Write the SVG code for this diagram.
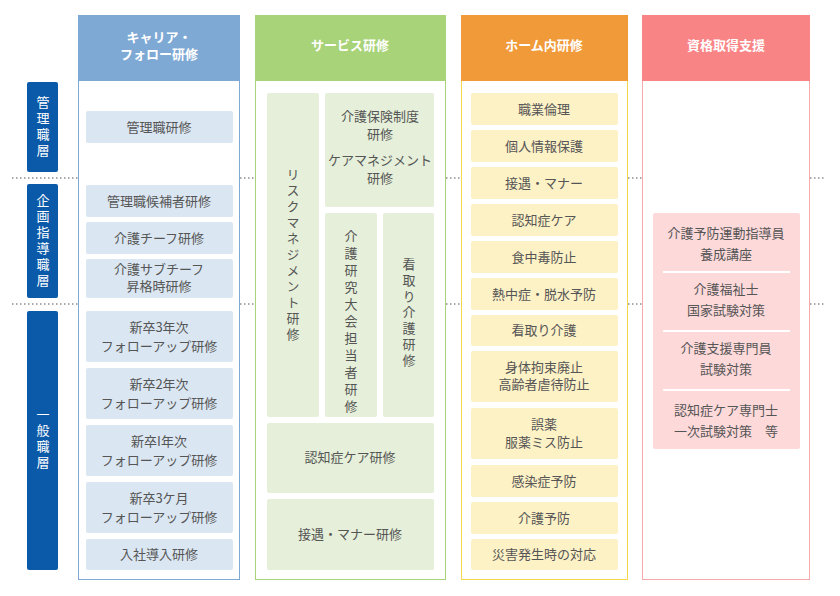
<svg xmlns="http://www.w3.org/2000/svg" width="840" height="596" viewBox="0 0 840 596">
<style>
text{font-family:"Noto Sans CJK JP","Noto Sans",sans-serif;font-size:13px;fill:#555;text-anchor:middle}
.h{fill:#fff;font-weight:bold;font-size:13px}
.lv{fill:#fff;font-size:13px;writing-mode:vertical-rl;text-anchor:start;letter-spacing:3px}
.v{writing-mode:vertical-rl;text-anchor:start}
.dot{stroke:#555;stroke-width:1;stroke-dasharray:1.5 2.5}
.b1{fill:#dae6f1}.b2{fill:#e5efd9}.b3{fill:#fdf1c6}
</style>
<rect width="840" height="596" fill="#fff"/>
<g id="connectors">
<path class="dot" d="M12 178H78M240 178H255M446 178H461M628 178H642M810 178H826M12 304H78M240 304H255M446 304H461M628 304H642M810 304H826"/>
</g>
<g id="levels">
<rect x="27" y="82" width="31" height="90" rx="2" fill="#0b5aa9"/>
<text class="lv" x="43" y="96">管理職層</text>
<rect x="27" y="184" width="31" height="114" rx="2" fill="#0b5aa9"/>
<text class="lv" x="43" y="194">企画指導職層</text>
<rect x="27" y="311" width="31" height="259" rx="2" fill="#0b5aa9"/>
<text class="lv" x="43" y="408">一般職層</text>
</g>
<g id="col1">
<rect x="78.5" y="15.5" width="161" height="564" fill="#fff" stroke="#7ea9d4"/>
<rect x="78" y="15" width="162" height="66" fill="#7ea9d4"/>
<text class="h"><tspan x="159" y="42">キャリア・</tspan><tspan x="159" y="59">フォロー研修</tspan></text>
<rect class="b1" x="86" y="111" width="147" height="32" rx="2"/><text x="159" y="132">管理職研修</text>
<rect class="b1" x="86" y="185" width="147" height="32" rx="2"/><text x="159" y="206">管理職候補者研修</text>
<rect class="b1" x="86" y="222" width="147" height="32" rx="2"/><text x="159" y="243">介護チーフ研修</text>
<rect class="b1" x="86" y="259" width="147" height="39" rx="2"/><text x="159" y="274">介護サブチーフ</text><text x="159" y="291">昇格時研修</text>
<rect class="b1" x="86" y="311" width="147" height="51" rx="2"/><text x="159" y="332">新卒3年次</text><text x="159" y="351">フォローアップ研修</text>
<rect class="b1" x="86" y="368" width="147" height="51" rx="2"/><text x="159" y="389">新卒2年次</text><text x="159" y="408">フォローアップ研修</text>
<rect class="b1" x="86" y="425" width="147" height="51" rx="2"/><text x="159" y="446">新卒I年次</text><text x="159" y="465">フォローアップ研修</text>
<rect class="b1" x="86" y="482" width="147" height="51" rx="2"/><text x="159" y="503">新卒3ケ月</text><text x="159" y="522">フォローアップ研修</text>
<rect class="b1" x="86" y="539" width="147" height="31" rx="2"/><text x="159" y="559">入社導入研修</text>
</g>
<g id="col2">
<rect x="255.5" y="15.5" width="190" height="564" fill="#fff" stroke="#a8d379"/>
<rect x="255" y="15" width="191" height="66" fill="#a8d379"/>
<text class="h" x="350" y="50">サービス研修</text>
<rect class="b2" x="267" y="93" width="52" height="324" rx="2"/>
<text class="v" x="293" y="168" style="letter-spacing:3px">リスクマネジメント研修</text>
<rect class="b2" x="325" y="93" width="109" height="114" rx="2"/>
<text x="380" y="121">介護保険制度</text><text x="380" y="139">研修</text><text x="380" y="165">ケアマネジメント</text><text x="380" y="183">研修</text>
<rect class="b2" x="325" y="213" width="52" height="204" rx="2"/>
<text class="v" x="351" y="230" style="letter-spacing:4px">介護研究大会担当者研修</text>
<rect class="b2" x="383" y="213" width="51" height="204" rx="2"/>
<text class="v" x="409" y="258" style="letter-spacing:3px">看取り介護研修</text>
<rect class="b2" x="267" y="423" width="167" height="70" rx="2"/><text x="350" y="462">認知症ケア研修</text>
<rect class="b2" x="267" y="499" width="167" height="71" rx="2"/><text x="350" y="539">接遇・マナー研修</text>
</g>
<g id="col3">
<rect x="461.5" y="15.5" width="166" height="564" fill="#fff" stroke="#f7d84a"/>
<rect x="461" y="15" width="167" height="66" fill="#f09a3a"/>
<text class="h" x="544" y="50">ホーム内研修</text>
<rect class="b3" x="471" y="93" width="147" height="32" rx="2"/><text x="544" y="114">職業倫理</text>
<rect class="b3" x="471" y="130" width="147" height="32" rx="2"/><text x="544" y="151">個人情報保護</text>
<rect class="b3" x="471" y="167" width="147" height="32" rx="2"/><text x="544" y="188">接遇・マナー</text>
<rect class="b3" x="471" y="204" width="147" height="32" rx="2"/><text x="544" y="225">認知症ケア</text>
<rect class="b3" x="471" y="241" width="147" height="32" rx="2"/><text x="544" y="262">食中毒防止</text>
<rect class="b3" x="471" y="278" width="147" height="32" rx="2"/><text x="544" y="299">熱中症・脱水予防</text>
<rect class="b3" x="471" y="315" width="147" height="31" rx="2"/><text x="544" y="335">看取り介護</text>
<rect class="b3" x="471" y="351" width="147" height="51" rx="2"/><text x="544" y="372">身体拘束廃止</text><text x="544" y="389">高齢者虐待防止</text>
<rect class="b3" x="471" y="408" width="147" height="51" rx="2"/><text x="544" y="429">誤薬</text><text x="544" y="447">服薬ミス防止</text>
<rect class="b3" x="471" y="465" width="147" height="32" rx="2"/><text x="544" y="486">感染症予防</text>
<rect class="b3" x="471" y="502" width="147" height="32" rx="2"/><text x="544" y="523">介護予防</text>
<rect class="b3" x="471" y="539" width="147" height="31" rx="2"/><text x="544" y="559">災害発生時の対応</text>
</g>
<g id="col4">
<rect x="642.5" y="15.5" width="167" height="564" fill="#fff" stroke="#f6a9ab"/>
<rect x="642" y="15" width="168" height="66" fill="#f98485"/>
<text class="h" x="726" y="50">資格取得支援</text>
<rect x="653" y="213" width="147" height="236" rx="2" fill="#fdd9da"/>
<path d="M663 272H790M663 331H790M663 390H790" stroke="#fff" stroke-width="2"/>
<text x="726" y="238">介護予防運動指導員</text><text x="726" y="259">養成講座</text>
<text x="726" y="294">介護福祉士</text><text x="726" y="315">国家試験対策</text>
<text x="726" y="353">介護支援専門員</text><text x="726" y="374">試験対策</text>
<text x="726" y="415">認知症ケア専門士</text><text x="726" y="436">一次試験対策　等</text>
</g>
</svg>
